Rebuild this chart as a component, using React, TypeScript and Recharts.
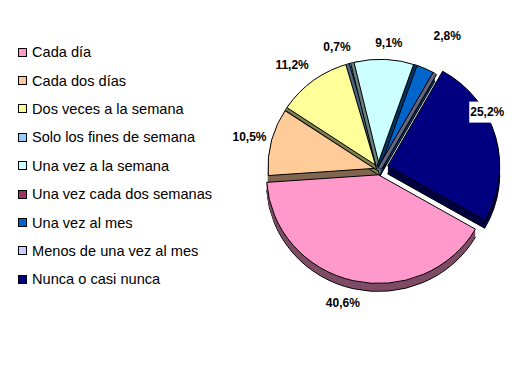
import { Legend, Pie, PieChart } from 'recharts';

const categories = [
  'Cada día',
  'Cada dos días',
  'Dos veces a la semana',
  'Solo los fines de semana',
  'Una vez a la semana',
  'Una vez cada dos semanas',
  'Una vez al mes',
  'Menos de una vez al mes',
  'Nunca o casi nunca',
];
const shares = [40.6, 10.5, 11.2, 0.7, 9.1, 0, 2.8, 0, 25.2];

const colors = ['#FF99CC', '#FFCC99', '#FFFF99', '#99CCFF', '#CCFFFF', '#993366', '#0066CC', '#CCCCFF', '#000080'];
const sideColors = ['#7F4C66', '#806650', '#80804C', '#4C6680', '#668080', '#4C1A33', '#003366', '#666680', '#000040'];
const explode = [7, 0, 0, 0, 0, 0, 0, 0, 8];
const labelNudge = [[-7, 4], [-1, 3], [-9, 5], [-9, 9], [2, 9], [0, 0], [12, -10], [0, 0], [-22, -21]];

const data = categories.map((name, i) => ({ name, value: shares[i] }));

const RAD = Math.PI / 180;
const SQUASH = 0.97;
const DEPTH = 8;
const FONT = '"Liberation Sans", Arial, sans-serif';

function pt(cx: number, cy: number, r: number, a: number) {
  return [cx + r * Math.cos(a * RAD), cy - r * SQUASH * Math.sin(a * RAD)];
}

function wedge(cx: number, cy: number, r: number, a1: number, a2: number) {
  const [x1, y1] = pt(cx, cy, r, a1);
  const [x2, y2] = pt(cx, cy, r, a2);
  const large = Math.abs(a1 - a2) > 180 ? 1 : 0;
  const sweep = a1 > a2 ? 1 : 0;
  return `M${cx},${cy}L${x1},${y1}A${r},${r * SQUASH} 0 ${large} ${sweep} ${x2},${y2}Z`;
}

function place(p: any) {
  const i = categories.indexOf(p.payload?.name ?? p.name);
  const d = explode[i] || 0;
  return {
    i,
    cx: p.cx + d * Math.cos(p.midAngle * RAD),
    cy: p.cy - d * Math.sin(p.midAngle * RAD),
  };
}

function SideSlice(p: any) {
  const { i, cx, cy } = place(p);
  if (Math.abs(p.startAngle - p.endAngle) < 0.01) return <g />;
  const layers = [];
  for (let t = DEPTH; t >= 1; t--) {
    layers.push(
      <path
        key={t}
        d={wedge(cx, cy + t, p.outerRadius, p.startAngle, p.endAngle)}
        fill={sideColors[i]}
        stroke={t === DEPTH ? '#000' : 'none'}
        strokeWidth={1}
      />,
    );
  }
  return <g>{layers}</g>;
}

function TopSlice(p: any) {
  const { i, cx, cy } = place(p);
  const zero = Math.abs(p.startAngle - p.endAngle) < 0.01;
  const [ex, ey] = pt(cx, cy, p.outerRadius, p.startAngle);
  const band = i >= 2 && i <= 7;
  return (
    <g>
      {band && (
        <>
          <line x1={cx} y1={cy} x2={ex} y2={ey} stroke="#000" strokeWidth={zero ? 5 : 8} />
          <line x1={cx} y1={cy} x2={ex} y2={ey} stroke={sideColors[i]} strokeWidth={zero ? 3 : 6} />
        </>
      )}
      {!zero && (
        <path
          d={wedge(cx, cy, p.outerRadius, p.startAngle, p.endAngle)}
          fill={colors[i]}
          stroke="#000"
          strokeWidth={1}
          strokeLinejoin="round"
        />
      )}
    </g>
  );
}

function renderLabel(p: any) {
  const i = categories.indexOf(p.payload?.name ?? p.name);
  if (!shares[i]) return <g />;
  const r = 134;
  const x = p.cx + r * Math.cos(p.midAngle * RAD) + labelNudge[i][0];
  const y = p.cy - r * Math.sin(p.midAngle * RAD) + labelNudge[i][1];
  return (
    <g>
      {i === 8 && <rect x={x - 18} y={y - 10} width={36} height={21} fill="#fff" />}
      <text
        x={x}
        y={y}
        textAnchor="middle"
        dominantBaseline="central"
        fontSize={12}
        fontWeight="bold"
        fontFamily={FONT}
        fill="#000"
      >
        {`${shares[i].toFixed(1).replace('.', ',')}%`}
      </text>
    </g>
  );
}

function LegendBox() {
  return (
    <div style={{ fontFamily: FONT, fontSize: 14.6, color: '#000' }}>
      {categories.map((c, i) => (
        <div key={c} style={{ height: 28.4, display: 'flex', alignItems: 'center' }}>
          <span
            style={{
              display: 'inline-block',
              width: 7,
              height: 7,
              border: '1px solid #000',
              background: colors[i],
              marginRight: 5,
            }}
          />
          <span>{c}</span>
        </div>
      ))}
    </div>
  );
}

export default function App() {
  return (
    <div style={{ position: 'absolute', left: 0, top: 0, background: '#fff' }}>
      <PieChart width={530} height={365} margin={{ top: 0, right: 0, bottom: 0, left: 0 }}>
        <Legend
          layout="vertical"
          align="center"
          verticalAlign="middle"
          content={() => <LegendBox />}
          wrapperStyle={{ left: 18, top: 38, width: 230 }}
        />
        <Pie
          data={data}
          dataKey="value"
          nameKey="name"
          cx={380}
          cy={168}
          outerRadius={112}
          startAngle={-30}
          endAngle={-390}
          shape={SideSlice}
          legendType="none"
          label={false}
          labelLine={false}
          isAnimationActive={false}
        />
        <Pie
          data={data}
          dataKey="value"
          nameKey="name"
          cx={380}
          cy={168}
          outerRadius={112}
          startAngle={-30}
          endAngle={-390}
          shape={TopSlice}
          label={renderLabel}
          labelLine={false}
          isAnimationActive={false}
        />
      </PieChart>
    </div>
  );
}
